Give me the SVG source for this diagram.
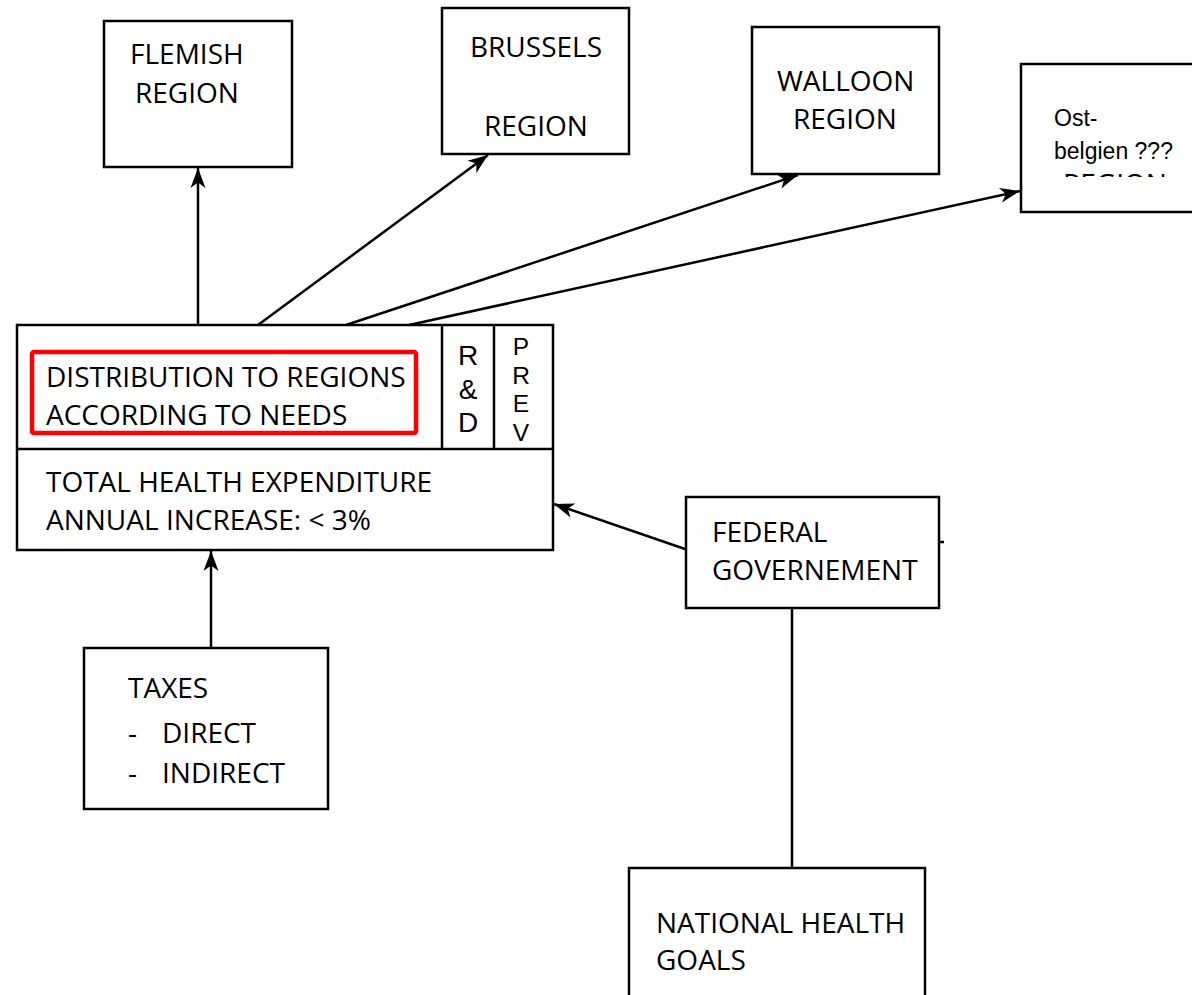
<svg xmlns="http://www.w3.org/2000/svg" width="1192" height="995" viewBox="0 0 1192 995">
<style>
.box{fill:#fff;stroke:#000;stroke-width:2.5}
.t{font-family:"Open Sans","Liberation Sans",sans-serif;font-size:28px;fill:#000}
.s{font-family:"Liberation Sans",sans-serif;font-size:23px;fill:#000}
.p{font-family:"Liberation Sans",sans-serif;font-size:24.5px;fill:#000}
.r{font-family:"Liberation Sans",sans-serif;font-size:28px;fill:#000}
.c{fill:none;stroke:#000;stroke-width:2.5}
</style>
<defs>
<marker id="ah" markerUnits="userSpaceOnUse" markerWidth="22" markerHeight="18" viewBox="0 0 22 18" refX="20" refY="9" orient="auto">
<path d="M0,1.5 L20,9 L0,16.5 L5.5,9 z" fill="#000"/>
</marker>
<clipPath id="cut"><rect x="1040" y="174" width="140" height="3"/></clipPath>
</defs>
<rect width="1192" height="995" fill="#fff"/>

<g id="connectors">
<line class="c" x1="198" y1="325" x2="198" y2="168" marker-end="url(#ah)"/>
<line class="c" x1="258" y1="325" x2="488" y2="155" marker-end="url(#ah)"/>
<line class="c" x1="346" y1="325" x2="798" y2="175" marker-end="url(#ah)"/>
<line class="c" x1="409" y1="325" x2="1020" y2="191" marker-end="url(#ah)"/>
<line class="c" x1="685" y1="549" x2="554" y2="504" marker-end="url(#ah)"/>
<line class="c" x1="211" y1="647" x2="211" y2="551" marker-end="url(#ah)"/>
<line class="c" x1="792" y1="608" x2="792" y2="867"/>
<line class="c" x1="939" y1="542" x2="944" y2="542"/>
</g>

<g id="flemish">
<rect class="box" x="104" y="21" width="188" height="146"/>
<text class="t" x="130" y="64">FLEMISH</text>
<text class="t" x="135" y="103">REGION</text>
</g>

<g id="brussels">
<rect class="box" x="442" y="8" width="187" height="146"/>
<text class="t" x="470" y="57">BRUSSELS</text>
<text class="t" x="484" y="136">REGION</text>
</g>

<g id="walloon">
<rect class="box" x="752" y="27" width="187" height="147"/>
<text class="t" x="777" y="91">WALLOON</text>
<text class="t" x="793" y="129">REGION</text>
</g>

<g id="ostbelgien">
<rect class="box" x="1021" y="64" width="190" height="148"/>
<text class="s" x="1054" y="126">Ost-</text>
<text class="s" x="1054" y="159">belgien ???</text>
<text class="t" x="1063" y="194" clip-path="url(#cut)">REGION</text>
</g>

<g id="main">
<rect class="box" x="17" y="325" width="536" height="225"/>
<line class="c" x1="17" y1="449" x2="553" y2="449"/>
<line class="c" x1="442" y1="325" x2="442" y2="449"/>
<line class="c" x1="494" y1="325" x2="494" y2="449"/>
<rect x="32" y="352" width="384" height="81" rx="2" fill="none" stroke="#f00" stroke-width="4.5"/>
<text class="t" x="46" y="387" font-size="27">DISTRIBUTION TO REGIONS</text>
<text class="t" x="46" y="425" font-size="27">ACCORDING TO NEEDS</text>
<text class="r" text-anchor="middle"><tspan x="468" y="365">R</tspan><tspan x="468" y="398.5">&amp;</tspan><tspan x="468" y="432">D</tspan></text>
<text class="p" text-anchor="middle"><tspan x="521" y="355">P</tspan><tspan x="521" y="383.5">R</tspan><tspan x="521" y="412">E</tspan><tspan x="521" y="440.5">V</tspan></text>
<text class="t" x="46" y="492" font-size="27">TOTAL HEALTH EXPENDITURE</text>
<text class="t" x="46" y="530" font-size="27">ANNUAL INCREASE: &lt; 3%</text>
</g>

<g id="federal">
<rect class="box" x="686" y="497" width="253" height="111"/>
<text class="t" x="712" y="542">FEDERAL</text>
<text class="t" x="712" y="580">GOVERNEMENT</text>
</g>

<g id="taxes">
<rect class="box" x="84" y="648" width="244" height="161"/>
<text class="t" x="128" y="698">TAXES</text>
<text class="t" x="128" y="743">-</text>
<text class="t" x="162" y="743">DIRECT</text>
<text class="t" x="128" y="783">-</text>
<text class="t" x="162" y="783">INDIRECT</text>
</g>

<g id="national">
<rect class="box" x="629" y="868" width="296" height="140"/>
<text class="t" x="656" y="933">NATIONAL HEALTH</text>
<text class="t" x="656" y="970">GOALS</text>
</g>
</svg>
